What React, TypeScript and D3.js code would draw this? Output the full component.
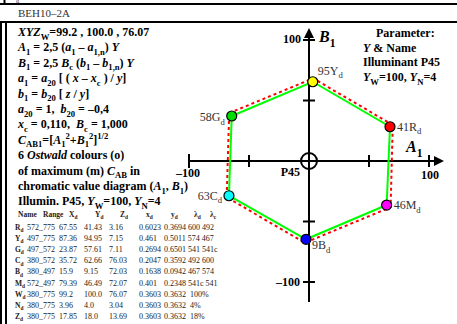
import React from "react";
import * as d3 from "d3";

// ---- data ----
const hueNames = ["G", "Y", "R", "M", "B", "C"];
const hueY = ["58", "95", "41", "46", "9", "63"];
const greenA = [-64.4, 3.1, 67.5, 64.7, -2.5, -66.7];
const greenB = [37.2, 65.5, 28.3, -36.4, -64.7, -28.7];
const redA = [-66.5, 3.5, 69.8, 68.0, -3.5, -68.6];
const redB = [39.6, 68.3, 29.8, -38.2, -67.6, -30.0];
const axisTicks = [-100, -50, 50, 100];

const formulaLines = [
  "*XYZ*_{W}=99.2 , 100.0 , 76.07",
  "*A*_{1} = 2,5 (*a*_{1} – *a*_{1,n}) *Y*",
  "*B*_{1} = 2,5 *B*_{c} (*b*_{1} – *b*_{1,n}) *Y*",
  "*a*_{1} = *a*_{20} [ ( *x* – *x*_{c} ) / *y*]",
  "*b*_{1} = *b*_{20} [ *z* / *y*]",
  "*a*_{20} = 1,  *b*_{20} = –0,4",
  "*x*_{c} = 0,110,  *B*_{c} = 1,000",
  "*C*_{AB1}=[*A*_{1}^{2}+*B*_{1}^{2}]^{1/2}",
  "6 *Ostwald* colours (o)",
  "of maximum (m) *C*_{AB} in",
  "chromatic value diagram (*A*_{1}, *B*_{1})",
  "Illumin. P45, *Y*_{W}=100, *Y*_{N}=4",
];

const paramLines = ["Parameter:", "*Y* & Name", "Illuminant P45", "*Y*_{W}=100, *Y*_{N}=4"];

const tableHeader = ["Name", "Range", "X_{d}", "Y_{d}", "Z_{d}", "x_{d}", "y_{d}", "λ_{d}", "λ_{c}"];
const tableNames = ["R", "Y", "G", "C", "B", "M", "W", "N", "Z"];
const tableRange = ["572_775", "497_775", "497_572", "380_572", "380_497", "572_497", "380_775", "380_775", "380_775"];
const tableX = ["67.55", "87.36", "23.87", "35.72", "15.9", "79.39", "99.2", "3.96", "17.85"];
const tableY = ["41.43", "94.95", "57.61", "62.66", "9.15", "46.49", "100.0", "4.0", "18.0"];
const tableZ = ["3.16", "7.15", "7.11", "76.03", "72.03", "72.07", "76.07", "3.04", "13.69"];
const tablex = ["0.6023", "0.461", "0.2694", "0.2047", "0.1638", "0.401", "0.3603", "0.3603", "0.3603"];
const tabley = ["0.3694 600 492", "0.5011 574 467", "0.6501 541 541c", "0.3592 492 600", "0.0942 467 574", "0.2348 541c 541", "0.3632  100%", "0.3632  4%", "0.3632  18%"];

const COLORS: Record<string, string> = {
  G: "#00dd00",
  Y: "#ffff00",
  R: "#ff0000",
  M: "#ff00ff",
  B: "#0000ff",
  C: "#00ffff",
};

// ---- rich text helper ----
type Seg = { t: string; it: boolean; pos: 0 | 1 | -1 };
function parse(s: string): Seg[] {
  const out: Seg[] = [];
  let it = false;
  let i = 0;
  let buf = "";
  const flush = () => {
    if (buf) out.push({ t: buf, it, pos: 0 });
    buf = "";
  };
  while (i < s.length) {
    const c = s[i];
    if (c === "*") {
      flush();
      it = !it;
      i++;
    } else if ((c === "_" || c === "^") && s[i + 1] === "{") {
      flush();
      const j = s.indexOf("}", i);
      out.push({ t: s.slice(i + 2, j), it: false, pos: c === "_" ? -1 : 1 });
      i = j + 1;
    } else {
      buf += c;
      i++;
    }
  }
  flush();
  return out;
}

function Rich({ s, x, y, size, weight = "bold", anchor = "start", fill = "#000" }: any) {
  const segs = parse(s);
  let cur = 0;
  const small = size * 0.72;
  return (
    <text x={x} y={y} fontSize={size} fontWeight={weight} textAnchor={anchor} fill={fill} style={{ whiteSpace: "pre" }}>
      {segs.map((g, k) => {
        const target = g.pos === -1 ? size * 0.3 : g.pos === 1 ? -size * 0.42 : 0;
        const dy = target - cur;
        cur = target;
        return (
          <tspan key={k} dy={dy} fontStyle={g.it ? "italic" : "normal"} fontSize={g.pos ? small : size}>
            {g.t}
          </tspan>
        );
      })}
    </text>
  );
}

export default function App() {
  const W = 457;
  const H = 324;
  const x = d3.scaleLinear().domain([-100, 100]).range([189, 429]);
  const y = d3.scaleLinear().domain([-100, 100]).range([282, 40]);
  const x0 = x(0);
  const y0 = y(0);

  const line = d3
    .line<number>()
    .x((i) => x(greenA[i]))
    .y((i) => y(greenB[i]))
    .curve(d3.curveLinearClosed);
  const redLine = d3
    .line<number>()
    .x((i) => x(redA[i]))
    .y((i) => y(redB[i]))
    .curve(d3.curveLinearClosed);
  const idx = hueNames.map((_, i) => i);

  const labelOff: Record<string, [number, number, string]> = {
    G: [-7, 5, "end"],
    Y: [5, -7, "start"],
    R: [7, 4, "start"],
    M: [7, 4, "start"],
    B: [6, 10, "start"],
    C: [-7, 4, "end"],
  };

  const colX = [15, 27, 59, 84, 109, 139, 164];
  const headX = [18, 43, 69, 95, 120, 146, 171, 194, 210];

  return (
    <svg width={W} height={H} style={{ position: "absolute", left: 0, top: 0, fontFamily: "'Liberation Serif', 'Times New Roman', serif" }}>
      <rect x={0} y={0} width={W} height={H} fill="#fff" />
      {/* frame */}
      <line x1={0} x2={W} y1={4} y2={4} stroke="#000" strokeWidth={2} />
      <line x1={0} x2={W} y1={22} y2={22} stroke="#000" strokeWidth={2} />
      <line x1={4.5} x2={4.5} y1={0} y2={4} stroke="#000" strokeWidth={2} />
      <line x1={1} x2={1} y1={22} y2={H} stroke="#000" strokeWidth={2} />
      <line x1={6} x2={6} y1={22} y2={H} stroke="#000" strokeWidth={2} />
      <text x={16} y={3} fontSize={6} fill="#333">d</text>
      <text x={18} y={17} fontSize={11} fill="#333">BEH10–2A</text>

      {/* formula block */}
      {formulaLines.map((s, i) => (
        <Rich key={i} s={s} x={18} y={36 + i * 15.4} size={12} />
      ))}

      {/* table */}
      {tableHeader.map((h, i) => (
        <Rich key={i} s={h} x={headX[i]} y={217} size={7.5} weight="bold" fill="#222" />
      ))}
      {tableNames.map((n, r) => {
        const yy = 230 + r * 11.1;
        const cols = [tableRange[r], tableX[r], tableY[r], tableZ[r], tablex[r], tabley[r]];
        return (
          <g key={r} fill="#222" fontSize={8}>
            <Rich s={`${n}_{d}`} x={colX[0]} y={yy} size={7.5} weight="bold" fill="#222" />
            {cols.map((c, k) => (
              <text key={k} x={colX[k + 1]} y={yy} style={{ whiteSpace: "pre" }}>
                {c}
              </text>
            ))}
          </g>
        );
      })}

      {/* parameter block */}
      {paramLines.map((s, i) => (
        <Rich key={i} s={s} x={i === 0 ? 376 : 363} y={37 + i * 14.7} size={12} />
      ))}

      {/* axes */}
      <g stroke="#000" strokeWidth={2}>
        <line x1={x(-100)} x2={436} y1={y0} y2={y0} />
        <line x1={x0} x2={x0} y1={302} y2={36} />
        {axisTicks.map((t) => (
          <line key={"h" + t} x1={x(t)} x2={x(t)} y1={y0 - (t === -100 ? 7 : 6)} y2={y0 + (t === -100 ? 7 : 6)} />
        ))}
        {axisTicks.map((t) => (
          <line key={"v" + t} x1={x0 - 6} x2={x0 + 6} y1={y(t)} y2={y(t)} />
        ))}
        <circle cx={x0} cy={y0} r={8} fill="none" />
      </g>
      <path d={`M434,${y0 - 5}L444,${y0}L434,${y0 + 5}Z`} fill="#000" />
      <path d={`M${x0 - 5},38L${x0},28L${x0 + 5},38Z`} fill="#000" />

      {/* axis labels */}
      <g fontSize={12} fontWeight="bold">
        <text x={x(100) + 10} y={179} textAnchor="end">100</text>
        <text x={x(-100) - 1} y={177} textAnchor="middle">–100</text>
        <text x={x0 - 9} y={176} textAnchor="end">P45</text>
        <text x={x0 - 8} y={y(100) + 3} textAnchor="end">100</text>
        <text x={x0 - 9} y={y(-100) + 4} textAnchor="end">–100</text>
      </g>
      <Rich s="*B*_{1}" x={x0 + 10} y={42} size={16} />
      <Rich s="*A*_{1}" x={406} y={152} size={16} />

      {/* polygons */}
      <path d={redLine(idx) || ""} fill="none" stroke="#ff0000" strokeWidth={2} strokeDasharray="3,3" />
      <path d={line(idx) || ""} fill="none" stroke="#00ff00" strokeWidth={2} />

      {idx.map((i) => {
        const n = hueNames[i];
        const [dx, dy, anc] = labelOff[n];
        return (
          <g key={n}>
            <circle cx={x(greenA[i])} cy={y(greenB[i])} r={5} fill={COLORS[n]} stroke="#000" strokeWidth={1.2} />
            <Rich s={`${hueY[i]}${n}_{d}`} x={x(greenA[i]) + dx} y={y(greenB[i]) + dy} size={12} weight="normal" anchor={anc} fill="#333" />
          </g>
        );
      })}
    </svg>
  );
}
